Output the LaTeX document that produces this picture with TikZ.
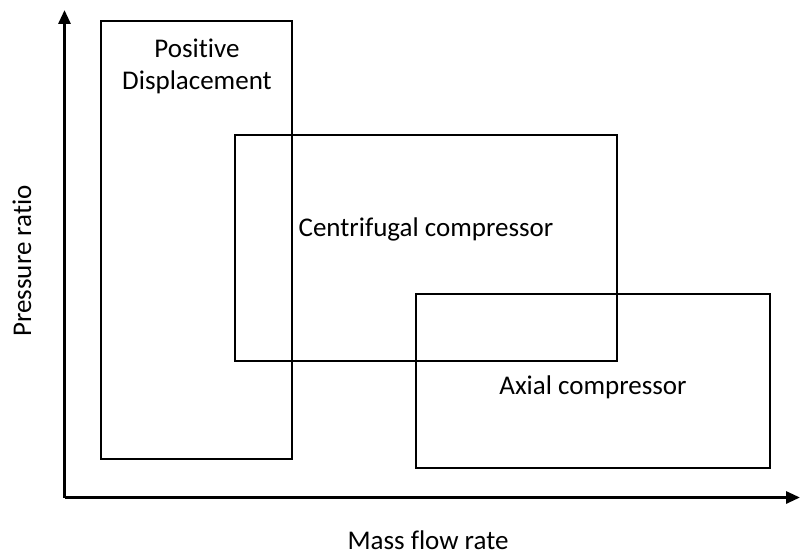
\documentclass[tikz,border=0pt]{standalone}
\usepackage{fontspec}
\setmainfont[Ligatures=NoCommon]{Carlito}
\usetikzlibrary{arrows.meta}
\begin{document}
\begin{tikzpicture}[x=1pt,y=-1pt,
  region/.style={draw,line width=1.8pt},
  axis/.style={line width=3pt,-{Triangle[length=14pt,width=12pt]}},
  lbl/.style={font=\fontsize{27}{32}\selectfont,align=center,inner sep=0pt}]
\useasboundingbox (0,0) rectangle (800,553);
\coordinate (o) at (64.5,497.5);
\coordinate (yt) at (64.5,10);
\coordinate (xt) at (800,497.5);
\draw[axis] (o) -- (yt);
\draw[axis] (o) -- (xt);
\draw[region] (101,21) rectangle (292,459);
\draw[region] (235,135) rectangle (617,361);
\draw[region] (416,294) rectangle (770,468);
\node[lbl] (pd) at (197,66) {Positive\\Displacement};
\node[lbl] (cc) at (426,229) {Centrifugal compressor};
\node[lbl] (ac) at (593,387) {Axial compressor};
\node[lbl,anchor=base] (mf) at (428,549) {Mass flow rate};
\node[lbl,rotate=90] (pr) at (22,261) {Pressure ratio};
\end{tikzpicture}
\end{document}
